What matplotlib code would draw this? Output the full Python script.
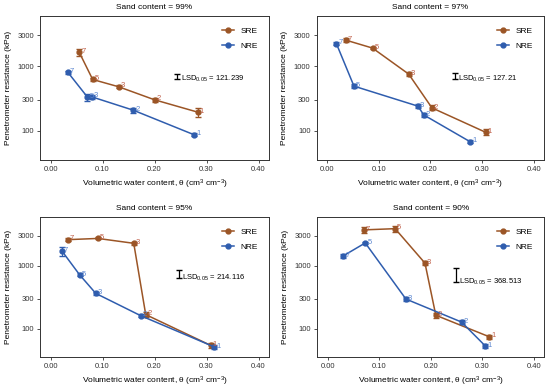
import matplotlib
matplotlib.use('Agg')
import matplotlib.pyplot as plt
from matplotlib.ticker import FixedLocator, NullLocator, FormatStrFormatter

plt.rcParams['font.family'] = ['Liberation Sans', 'DejaVu Sans']
plt.rcParams['mathtext.fontset'] = 'custom'
plt.rcParams['mathtext.rm'] = 'Liberation Sans'
plt.rcParams['mathtext.it'] = 'Liberation Sans:italic'

titles = ['Sand content = 99%', 'Sand content = 97%', 'Sand content = 95%', 'Sand content = 90%']
point_labels = ['7', '5', '3', '2', '1']

sre_x = [[0.055, 0.081, 0.131, 0.200, 0.283],
         [0.036, 0.088, 0.158, 0.203, 0.307],
         [0.033, 0.091, 0.160, 0.183, 0.308],
         [0.070, 0.131, 0.189, 0.210, 0.314]]
sre_y = [[1650, 620, 478, 300, 193],
         [2535, 1905, 752, 225, 94],
         [2600, 2720, 2275, 167, 54],
         [3720, 3890, 1100, 163, 74]]
sre_err = [[220, 30, 25, 20, 30],
           [150, 80, 60, 20, 10],
           [120, 100, 100, 15, 4],
           [450, 420, 80, 15, 6]]

nre_x = [[0.033, 0.071, 0.079, 0.159, 0.276],
         [0.018, 0.052, 0.176, 0.187, 0.277],
         [0.022, 0.056, 0.087, 0.173, 0.315],
         [0.030, 0.073, 0.152, 0.260, 0.306]]
nre_y = [[807, 330, 334, 207, 86],
         [2230, 489, 239, 175, 67],
         [1711, 716, 363, 161, 51],
         [1430, 2305, 295, 127, 53]]
nre_err = [[40, 45, 20, 20, 5],
           [100, 30, 15, 10, 4],
           [300, 40, 25, 10, 3],
           [80, 120, 20, 8, 3]]

lsd = [121.239, 127.21, 214.116, 368.513]
lsd_x = [0.244, 0.248, 0.247, 0.250]
lsd_center = [700, 705, 745, 740]

sre_col = '#9B5526'
nre_col = '#2F5DAE'
sre_lab = '#C0604A'
nre_lab = '#5B86D0'

fig = plt.figure(figsize=(5.5, 3.9), dpi=100)
positions = [[0.073, 0.59, 0.416, 0.369],
             [0.576, 0.59, 0.413, 0.369],
             [0.073, 0.084, 0.416, 0.360],
             [0.577, 0.084, 0.412, 0.360]]

for i in range(4):
    ax = fig.add_axes(positions[i])
    ax.plot(sre_x[i], sre_y[i], color=sre_col, lw=1.1, marker='o', ms=3.5, label='SRE', zorder=3)
    ax.errorbar(sre_x[i], sre_y[i], yerr=sre_err[i], fmt='none', ecolor=sre_col, elinewidth=0.8, capsize=2, zorder=3)
    ax.plot(nre_x[i], nre_y[i], color=nre_col, lw=1.1, marker='o', ms=3.5, label='NRE', zorder=3)
    ax.errorbar(nre_x[i], nre_y[i], yerr=nre_err[i], fmt='none', ecolor=nre_col, elinewidth=0.8, capsize=2, zorder=3)
    for j in range(5):
        ax.text(sre_x[i][j] + 0.004, sre_y[i][j] * 1.03, point_labels[j], color=sre_lab, fontsize=5.5, va='center', ha='left')
        ax.text(nre_x[i][j] + 0.004, nre_y[i][j] * 1.03, point_labels[j], color=nre_lab, fontsize=5.5, va='center', ha='left')

    ax.errorbar([lsd_x[i]], [lsd_center[i]], yerr=[lsd[i] / 2], fmt='none', ecolor='black', elinewidth=0.9, capsize=2.5)
    ax.text(lsd_x[i] + 0.006, lsd_center[i] - lsd[i] / 2, r'LSD$_{0.05}$ = ' + str(lsd[i]), fontsize=5.5, va='center', ha='left')

    ax.set_yscale('log')
    ax.set_ylim(35, 6000)
    ax.set_xlim(-0.02, 0.42)
    ax.yaxis.set_major_locator(FixedLocator([100, 300, 1000, 3000]))
    ax.yaxis.set_minor_locator(NullLocator())
    ax.set_yticklabels(['100', '300', '1000', '3000'])
    ax.set_xticks([0.0, 0.1, 0.2, 0.3, 0.4])
    ax.xaxis.set_major_formatter(FormatStrFormatter('%.2f'))
    ax.tick_params(labelsize=5.5, length=2.5, width=0.6, colors='#333333', labelcolor='#333333', pad=2)
    for s in ax.spines.values():
        s.set_color('#333333')
        s.set_linewidth(0.7)
    ax.set_title(titles[i], fontsize=6, pad=5)
    ax.set_xlabel(r'Volumetric water content, θ (cm$^{3}$ cm$^{-3}$)', fontsize=6, labelpad=3)
    ax.set_ylabel('Penetrometer resistance (kPa)', fontsize=6, labelpad=4)
    ax.legend(loc='upper right', frameon=False, fontsize=6, handlelength=1.5, borderaxespad=0.9, labelspacing=0.9)

fig.savefig('out.png', dpi=100)
